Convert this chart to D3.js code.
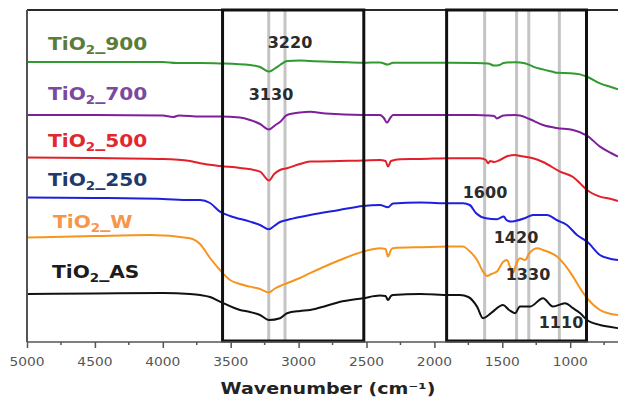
<!DOCTYPE html>
<html>
<head>
<meta charset="utf-8">
<script src="https://cdn.jsdelivr.net/npm/d3@7/dist/d3.min.js"></script>
<style>
  html, body { margin: 0; padding: 0; background: #fff; }
  svg { display: block; }
</style>
</head>
<body>
<svg id="chart" width="618" height="399"></svg>
<script>
// ---------- DATA (wavenumber cm-1, offset transmittance a.u.) ----------
const tio2_900 = [[5000,140],[4500,140],[4000,140],[3900,139.5],[3726,139.5],[3579,139.3],[3358,138.5],[3284,137.5],[3218,135.2],[3180,136.5],[3137,138.5],[3085,140.5],[2990,140.8],[2916,140.5],[2700,140],[2526,139.6],[2401,139.8],[2342,138.7],[2305,139.6],[2106,139.6],[1885,139.6],[1700,139.5],[1605,139.3],[1560,138.2],[1520,138.5],[1490,139.5],[1406,139.9],[1370,139.8],[1300,138.6],[1274,137.7],[1200,136.3],[1127,135.1],[1097,134.6],[1000,134.4],[928,133.8],[876,132.6],[781,129.3],[700,127.5],[648,126.4]];
const tio2_700 = [[5000,113.5],[4500,113.5],[4000,113.3],[3925,112.5],[3880,113.3],[3726,112.7],[3579,112.7],[3432,112.2],[3358,111],[3284,109],[3218,106.3],[3170,108.5],[3137,110],[3085,113.5],[2990,114.7],[2916,115.1],[2800,114.2],[2526,113.5],[2401,113.5],[2372,112],[2350,109.7],[2320,112.5],[2305,113.5],[2106,113.5],[1885,113.5],[1700,113.5],[1605,113.3],[1560,113],[1540,111.8],[1517,112.5],[1490,113.3],[1406,113.5],[1370,113.3],[1300,111.5],[1200,108.5],[1100,107],[979,106],[876,103.2],[781,97.7],[700,94.5],[648,92.7]];
const tio2_500 = [[5000,92.3],[4500,92],[4000,91.5],[3800,90.5],[3726,89.4],[3579,88],[3432,87],[3284,85.2],[3218,80.7],[3180,84],[3137,86],[3085,86.9],[2990,89],[2916,90.2],[2700,90.5],[2526,90.7],[2401,91],[2360,90.5],[2342,87.7],[2320,90.5],[2253,91.4],[2106,91.5],[1885,91.9],[1664,91.9],[1620,91],[1605,89.4],[1590,90.5],[1560,90],[1517,91],[1460,93],[1406,93.5],[1370,93],[1274,91.9],[1200,90],[1075,85.2],[979,82.5],[928,79.4],[876,76],[781,72.7],[700,71.5],[648,70.5]];
const tio2_250 = [[5000,72.2],[4500,72],[4000,71.5],[3800,71],[3726,71],[3652,69.5],[3579,65.2],[3505,63],[3358,60.2],[3284,58.5],[3218,56.4],[3180,58],[3137,60],[3085,61],[2990,62.5],[2916,63.5],[2700,66],[2526,68],[2401,68.5],[2342,67.4],[2305,69.3],[2106,69.7],[1885,69.4],[1789,69.4],[1740,68.5],[1693,64.4],[1620,61.9],[1540,61.4],[1489,62.7],[1470,61],[1436,60.2],[1406,60.5],[1330,62],[1274,63.5],[1171,63.5],[1100,61],[1024,58.5],[950,53.5],[876,50.2],[781,43.5],[700,41.5],[648,41]];
const tio2_W = [[5000,52.2],[4500,53],[4094,53.5],[3800,51.9],[3726,49],[3652,42],[3579,36],[3505,31],[3432,29],[3358,27.7],[3284,26.5],[3218,24.7],[3180,26.5],[3137,28],[3085,29.4],[2990,32],[2916,34.4],[2695,41],[2526,45.2],[2401,46.9],[2360,46.5],[2342,42.7],[2320,46],[2305,46.9],[2106,47.4],[1885,47.7],[1789,47.7],[1750,46],[1686,41],[1640,35],[1613,33],[1580,34],[1539,35.2],[1495,40],[1465,41],[1440,37],[1420,34.7],[1400,38.5],[1370,41.9],[1333,41],[1300,44.5],[1240,46.9],[1200,46],[1097,42.7],[979,32.7],[928,27],[876,21.9],[781,16],[700,14],[648,13.5]];
const tio2_AS = [[5000,24],[4500,24.3],[4000,24.5],[3800,24],[3726,23.5],[3652,22.5],[3579,20.2],[3432,16],[3358,15],[3284,13.5],[3218,11],[3137,11.9],[3085,14.4],[2990,15.5],[2916,16],[2800,18],[2700,20],[2526,21.9],[2401,23.2],[2360,23],[2342,21],[2320,23],[2305,23.5],[2106,24],[1885,23.5],[1812,23.5],[1750,22.5],[1686,17.7],[1642,11.9],[1600,13.5],[1569,15.2],[1495,18.5],[1450,16],[1406,14.4],[1370,17.7],[1296,17.7],[1200,21.9],[1127,17.7],[1038,19.4],[979,16.9],[928,14.5],[876,11],[781,8.5],[700,7.5],[648,6.9]];

const seriesSuffix = ["900","700","500","250","W","AS"];
const seriesData = [tio2_900, tio2_700, tio2_500, tio2_250, tio2_W, tio2_AS];
const lineColors = ["#2f9a2f","#7e1f9c","#e3202a","#1f1fe0","#f7941d","#111111"];
const labelColors = ["#5b7d3a","#7a4a9e","#e0282e","#1f3a6b","#f7964a","#1c1c1c"];

const xTickValues = [5000,4500,4000,3500,3000,2500,2000,1500,1000];
const xMinorTicks = [4750,4250,3750,3250,2750,2250,1750,1250,750];
const grayBands = [3220,3100,1630,1395,1305,1080];
const boxes = [[3560,2520],[1910,880]];
const peakLabels = ["3220","3130","1600","1420","1330","1110"];
const xTitle = "Wavenumber (cm⁻¹)";

// ---------- LAYOUT ----------
(function draw() {
  const svg = d3.select("#chart");
  const W = 618, H = 399;
  const mLeft = 27, mTop = 10, mBottom = 342;
  svg.append("rect").attr("width", W).attr("height", H).attr("fill", "#fff");

  const x = d3.scaleLinear().domain([5000, 400]).range([mLeft, mLeft + 4600 * 0.1358]);
  const y = d3.scaleLinear().domain([0, 166]).range([mBottom, mTop]);

  // gray marker lines
  svg.append("g").selectAll("line").data(grayBands).join("line")
    .attr("x1", d => x(d)).attr("x2", d => x(d))
    .attr("y1", mTop).attr("y2", mBottom)
    .attr("stroke", "#c4c4c4").attr("stroke-width", 3);

  // curves
  const line = d3.line().x(d => x(d[0])).y(d => y(d[1])).curve(d3.curveMonotoneX);
  svg.append("g").selectAll("path").data(seriesData).join("path")
    .attr("d", d => line(d))
    .attr("fill", "none")
    .attr("stroke", (d, i) => lineColors[i])
    .attr("stroke-width", 2)
    .attr("stroke-linejoin", "round");

  // frame: top line and left axis
  svg.append("line").attr("x1", mLeft).attr("x2", W).attr("y1", mTop).attr("y2", mTop)
    .attr("stroke", "#2a2a2a").attr("stroke-width", 2);
  svg.append("line").attr("x1", mLeft).attr("x2", mLeft).attr("y1", mTop).attr("y2", mBottom)
    .attr("stroke", "#555").attr("stroke-width", 2);

  // boxes
  svg.append("g").selectAll("rect").data(boxes).join("rect")
    .attr("x", d => x(d[0])).attr("width", d => x(d[1]) - x(d[0]))
    .attr("y", mTop).attr("height", mBottom - 1 - mTop)
    .attr("fill", "none").attr("stroke", "#111").attr("stroke-width", 3);

  // bottom axis
  const axisG = svg.append("g").attr("transform", `translate(0,${mBottom})`);
  axisG.call(d3.axisBottom(x).tickValues(xTickValues).tickSize(6).tickFormat(() => ""));
  axisG.select(".domain").attr("stroke", "#555").attr("stroke-width", 1.5).attr("d", `M${mLeft},0H${W}`);
  axisG.selectAll(".tick line").attr("stroke", "#555").attr("stroke-width", 1.5);
  axisG.selectAll(".minor").data(xMinorTicks).join("line").attr("class", "minor")
    .attr("x1", d => x(d)).attr("x2", d => x(d)).attr("y1", 0).attr("y2", 3)
    .attr("stroke", "#555").attr("stroke-width", 1.5);

  function stretched(parent, px, py, sx) {
    return parent.append("g").attr("transform", `translate(${px},${py}) scale(${sx},1)`);
  }

  // tick labels
  xTickValues.forEach(v => {
    stretched(svg, x(v), 366, 1.2).append("text")
      .attr("text-anchor", "middle")
      .attr("font-family", "DejaVu Sans").attr("font-size", 11.5)
      .attr("fill", "#555").text(v);
  });

  // axis title
  stretched(svg, 328, 394, 1.19).append("text")
    .attr("text-anchor", "middle")
    .attr("font-family", "DejaVu Sans").attr("font-weight", "bold").attr("font-size", 16)
    .attr("fill", "#222").text(xTitle);

  // series labels
  const labelPos = [[48,50],[48,100],[48,147],[48,186],[53,228],[52,278]];
  seriesSuffix.forEach((s, i) => {
    const t = stretched(svg, labelPos[i][0], labelPos[i][1], 1.12).append("text")
      .attr("font-family", "DejaVu Sans").attr("font-weight", "bold").attr("font-size", 18)
      .attr("fill", labelColors[i]);
    t.append("tspan").text("TiO");
    t.append("tspan").attr("font-size", 12).attr("dy", 4).text("2");
    t.append("tspan").attr("dy", -4).text("_" + s);
  });

  // peak labels
  const peakPos = [[290,48],[271,100],[485,198],[516,243],[528,280],[561,328]];
  peakLabels.forEach((p, i) => {
    svg.append("text").attr("x", peakPos[i][0]).attr("y", peakPos[i][1])
      .attr("text-anchor", "middle")
      .attr("font-family", "DejaVu Sans").attr("font-weight", "bold").attr("font-size", 16)
      .attr("fill", "#2b2b2b").text(p);
  });
})();
</script>
</body>
</html>
